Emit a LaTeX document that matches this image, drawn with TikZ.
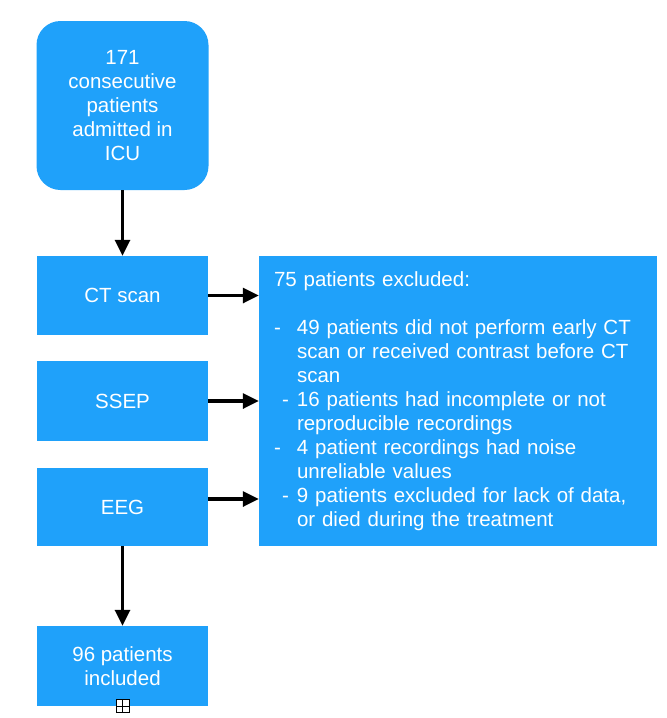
\documentclass[tikz,border=0pt]{standalone}
\usepackage{fontspec}
\setmainfont{Liberation Sans}
\usepackage{xcolor}
\usetikzlibrary{arrows.meta,positioning}
\definecolor{flowBlue}{RGB}{31,161,250}
\tikzset{
  >=Triangle,
  % all boxes share the same flat blue fill and white text
  roundbox/.style={
    rounded corners=24pt,
    fill=flowBlue,
    text=white,
    align=center,
    minimum width=172pt,
    minimum height=169pt,
    font=\fontsize{20.5}{24}\selectfont
  },
  stepbox/.style={
    fill=flowBlue,
    text=white,
    align=center,
    minimum width=171pt,
    minimum height=79pt,
    font=\fontsize{20.5}{24}\selectfont
  },
  listbox/.style={
    fill=flowBlue,
    text=white,
    align=left,
    inner xsep=15pt,
    text width=368pt,
    minimum height=290pt,
    font=\fontsize{20.5}{24}\selectfont
  },
  arrow/.style={
    -{Triangle[length=16pt,width=15pt]},
    line width=3.2pt,
    draw=black
  },
  markbox/.style={
    draw=black,
    fill=white,
    line width=0.9pt,
    minimum size=13pt,
    inner sep=0pt,
    path picture={
      \draw[line width=0.9pt] (path picture bounding box.north) -- (path picture bounding box.south);
      \draw[line width=0.9pt] (path picture bounding box.west) -- (path picture bounding box.east);
    }
  }
}
\begin{document}
\begin{tikzpicture}[x=1pt,y=-1pt]
\useasboundingbox (0,0) rectangle (667,718);

% left column: admission -> exams -> inclusion
\node[roundbox] (icu) at (122.5,105.5)
{171\\consecutive\\patients\\admitted in\\ICU};
\node[stepbox] (ct) at (122.5,295.5) {CT scan};
\node[stepbox, minimum height=80pt] (ssep) at (122.5,401) {SSEP};
\node[stepbox, minimum height=78pt] (eeg) at (122.5,507) {EEG};
\node[stepbox, minimum height=80pt] (incl) at (122.5,666) {96 patients\\included};
\node[markbox] (mark) at (122.5,706) {};

% right column: exclusion list
\node[listbox, minimum width=398pt] (excl) at (458,401)
{75 patients excluded:\\[24pt]
\makebox[23pt][l]{-}49 patients did not perform early CT\\
\hspace*{23pt}scan or received contrast before CT\\
\hspace*{23pt}scan\\
\makebox[23pt][l]{\hspace{8pt}-}16 patients had incomplete or not\\
\hspace*{23pt}reproducible recordings\\
\makebox[23pt][l]{-}4 patient recordings had noise\\
\hspace*{23pt}unreliable values\\
\makebox[23pt][l]{\hspace{8pt}-}9 patients excluded for lack of data,\\
\hspace*{23pt}or died during the treatment};

\draw[arrow] (icu.south) -- (ct.north);
\draw[arrow] (eeg.south) -- (incl.north);
\draw[arrow] (ct.east) -- (ct.east -| excl.west);
\draw[arrow] (ssep.east) -- (ssep.east -| excl.west);
\draw[arrow] ([yshift=8pt]eeg.east) -- ([yshift=8pt]eeg.east -| excl.west);

\end{tikzpicture}
\end{document}
